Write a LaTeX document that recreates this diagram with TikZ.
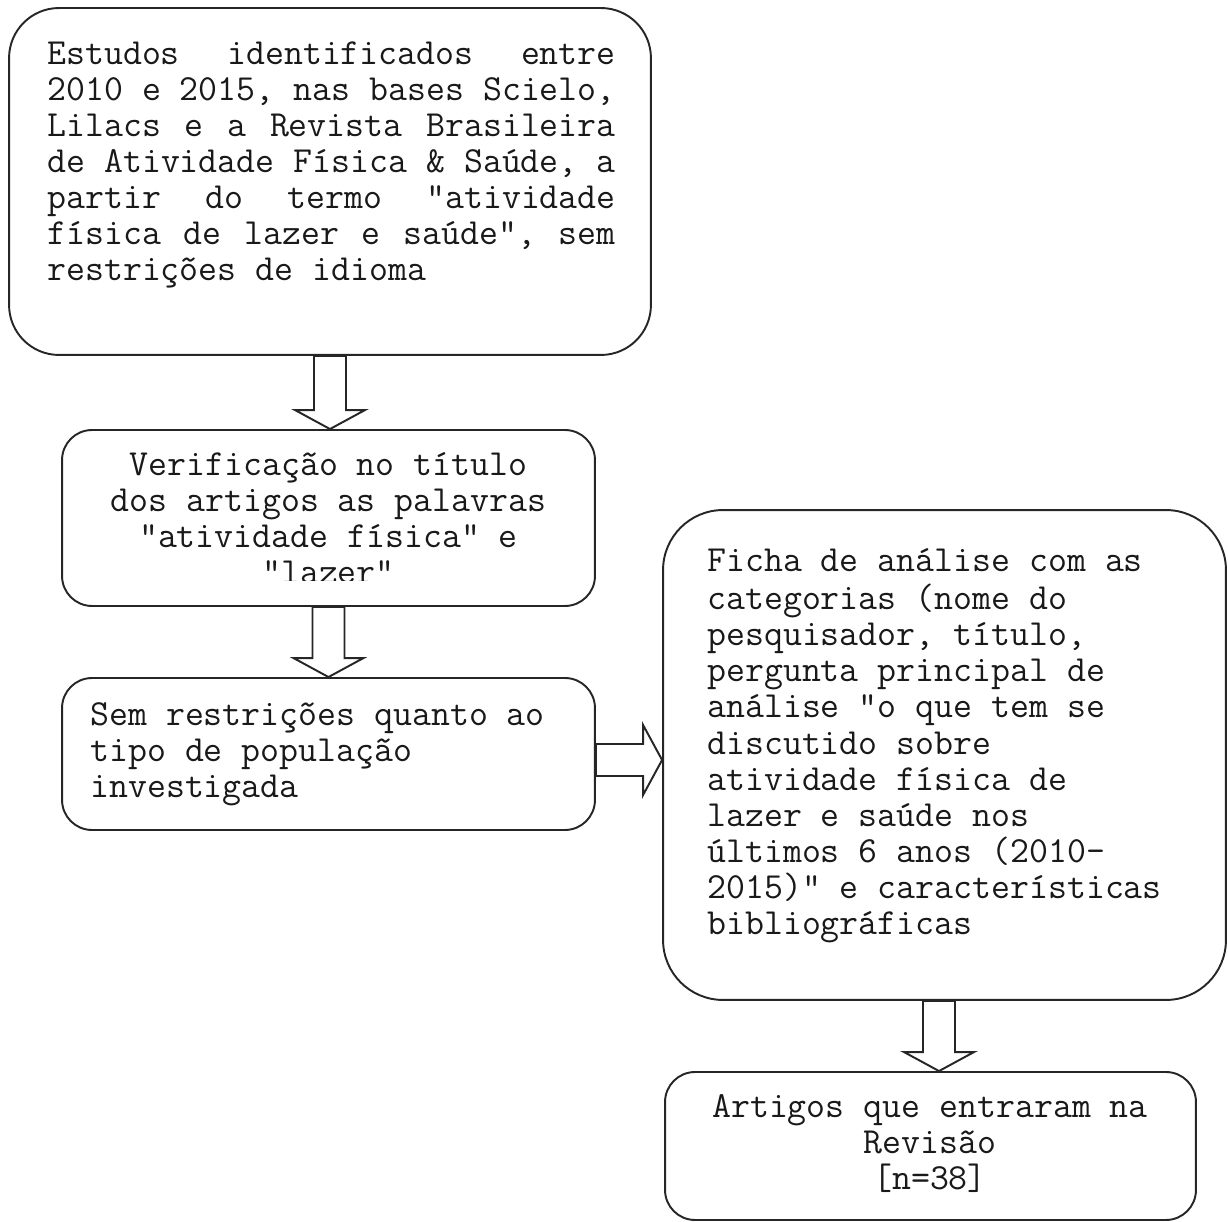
\documentclass[tikz,border=0pt]{standalone}
\usepackage{fontspec}
\usepackage{tikz}
\usetikzlibrary{calc}

\tikzset{
  caixa/.style={draw=black!85, line width=1.1pt, rounded corners=#1},
  caixa/.default=0.6cm,
  texto/.style={font=\ttfamily\fontsize{20.93}{20.5}\selectfont\frenchspacing, inner sep=0pt, text=black!90},
  seta/.style={draw=black!85, line width=1.1pt, fill=white, line join=miter}
}

% seta larga (vazada) de #1 ate #2
\newcommand{\setabloco}[2]{%
  \coordinate (ponta) at ($(#2)!0.38cm!(#1)$);
  \draw[seta] ($(#1)!0.32cm!90:(#2)$) -- ($(ponta)!0.32cm!90:(#2)$) -- ($(ponta)!0.7cm!90:(#2)$) -- (#2)
    -- ($(ponta)!0.7cm!-90:(#2)$) -- ($(ponta)!0.32cm!-90:(#2)$) -- ($(#1)!0.32cm!-90:(#2)$) -- cycle;
}

\begin{document}
\begin{tikzpicture}[x=0.02cm, y=-0.02cm]
  \useasboundingbox (0,0) rectangle (1228,1222);

  % Caixas
  \node[caixa=1cm, minimum width=12.84cm, minimum height=6.94cm] (c1) at (330,181.5) {};
  \node[caixa, minimum width=10.66cm, minimum height=3.52cm] (c2) at (328.5,518) {};
  \node[caixa, minimum width=10.66cm, minimum height=3.04cm] (c3) at (328.5,754) {};
  \node[caixa=1.2cm, minimum width=11.26cm, minimum height=9.8cm] (c4) at (944.5,755) {};
  \node[caixa, minimum width=10.62cm, minimum height=2.96cm] (c5) at (930.5,1146) {};

  % Textos
  \node[texto, anchor=north west, text width=11.37cm, align=justify] (t1) at (47,38.6)
    {\noindent\spaceskip=\fontdimen2\font plus 1em\strut Estudos identificados entre\linebreak
     2010 e 2015, nas bases Scielo,\linebreak Lilacs e a Revista Brasileira\linebreak
     de Atividade Física \& Saúde, a\linebreak partir do termo "atividade\linebreak
     física de lazer e saúde", sem\linebreak restrições de idioma};
  \begin{scope}
    \clip (62,430) rectangle (595,581);
    \node[texto, anchor=north, align=center] (t2) at (328.5,449.6)
      {\strut Verificação no título\\dos artigos as palavras\\"atividade física" e\\"lazer"};
  \end{scope}
  \node[texto, anchor=north west, align=left] (t3) at (90,699.6)
    {\strut Sem restrições quanto ao\\tipo de população\\investigada};
  \node[texto, anchor=north west, align=left] (t4) at (707,546.3)
    {\strut Ficha de análise com as\\categorias (nome do\\pesquisador, título,\\pergunta principal de\\
     análise "o que tem se\\discutido sobre\\atividade física de\\lazer e saúde nos\\
     últimos 6 anos (2010-\\2015)" e características\\bibliográficas};
  \node[texto, anchor=north, align=center] (t5) at (930,1091.6)
    {\strut Artigos que entraram na\\Revisão\\{[}n=38{]}};

  % Setas
  \coordinate (f1) at (c1.south |- c2.north);
  \setabloco{c1.south}{f1}
  \coordinate (f2) at (c2.south |- c3.north);
  \setabloco{c2.south}{f2}
  \coordinate (i3) at ([yshift=-0.12cm]c3.east);
  \coordinate (f3) at (i3 -| c4.west);
  \setabloco{i3}{f3}
  \coordinate (i4) at ([xshift=-0.11cm]c4.south);
  \coordinate (f4) at (i4 |- c5.north);
  \setabloco{i4}{f4}
\end{tikzpicture}
\end{document}
